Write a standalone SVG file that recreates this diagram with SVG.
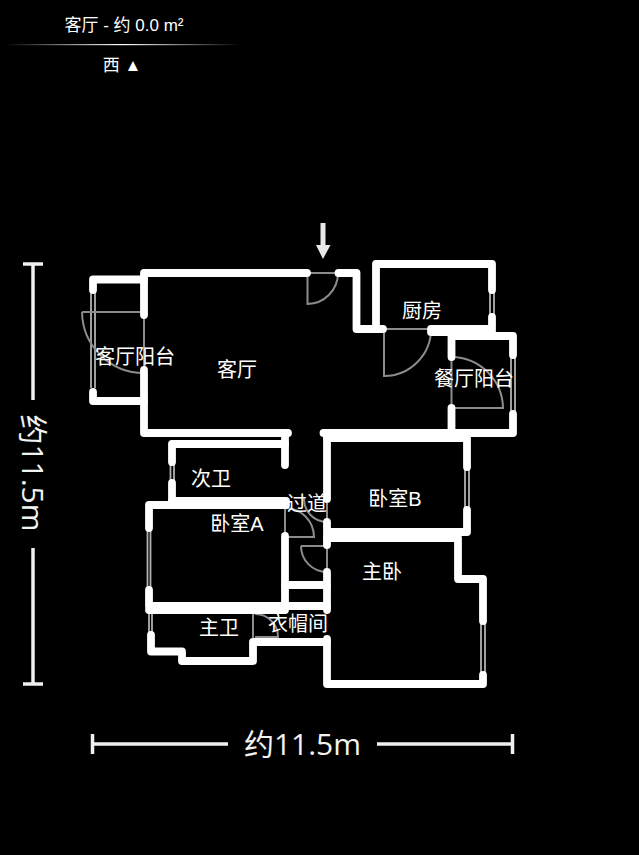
<svg xmlns="http://www.w3.org/2000/svg" width="639" height="855" viewBox="0 0 639 855">
<defs>
<linearGradient id="fade" x1="0" x2="1" y1="0" y2="0"><stop offset="0" stop-color="#fff" stop-opacity="0"/><stop offset=".5" stop-color="#fff"/><stop offset="1" stop-color="#fff" stop-opacity="0"/></linearGradient>
</defs>
<style>
text{font-family:"Liberation Sans","Noto Sans CJK SC",sans-serif;fill:#fff;text-anchor:middle}
.room{font-size:20px;dominant-baseline:central}
.head{font-size:17px;dominant-baseline:central}
.dimt{font-size:30px;dominant-baseline:central;fill:#f2f2f2;font-family:"Open Sans","Noto Sans CJK SC",sans-serif}
.wall{fill:none;stroke:#fff;stroke-width:7.8;stroke-linecap:round;stroke-linejoin:round}
.thin{fill:none;stroke:#8c8c8c;stroke-width:2}
.win{fill:none;stroke:#b0b0b0;stroke-width:1.8}
.dim{fill:none;stroke:#f0f0f0;stroke-width:3.5}
</style>
<rect width="639" height="855" fill="#000"/>
<g id="header">
<text class="head" x="124" y="25">客厅 - 约 0.0 m²</text>
<rect x="5" y="44" width="235" height="1.2" fill="url(#fade)"/>
<text class="head" x="122" y="65">西 ▲</text>
</g>
<g id="windows">
<path class="win" d="M91 290V388M95 290V388M490 290V314M494 290V314M511 355V412M515 355V412M170.500 462V483M174 462V483M465 467V507M469 467V507M147.500 528V590M150.500 528V590M149 612V635M152 612V635M481 621V675M485 621V675"/>
</g>
<g id="doors">
<path class="thin" d="M82 312H144V370M82 312A62 62 0 0 0 144 373"/>
<path class="thin" d="M307.500 273H338M307.500 273V304A31 31 0 0 0 338 273"/>
<path class="thin" d="M383 329H431M384 329V376A47 47 0 0 0 431 329"/>
<path class="thin" d="M451.500 357V408H503A52 52 0 0 0 451.500 357"/>
<path class="thin" d="M285 503V537H314A29 29 0 0 0 285 508"/>
<path class="thin" d="M327 499V522M304 499A23 23 0 0 0 327 522"/>
<path class="thin" d="M327 545V572M301 546H327M301 546A26 26 0 0 0 327 572"/>
<path class="thin" d="M253 612V638M255 637H278A23 23 0 0 0 255 614"/>
</g>
<g id="walls">
<path class="wall" d="M93 290V279.500H144"/>
<path class="wall" d="M93 392V401H144"/>
<path class="wall" d="M144 315V273H307"/>
<path class="wall" d="M144 370V433H288"/>
<path class="wall" d="M338.500 273H356.500V329H383"/>
<path class="wall" d="M376 329V264H492V290"/>
<path class="wall" d="M492 317V329H431"/>
<path class="wall" d="M451.500 357V336H513V355"/>
<path class="wall" d="M451.500 408V433"/>
<path class="wall" d="M431 332H492"/>
<path class="wall" d="M513 414V433H323.500"/>
<path class="wall" d="M327 433V499"/>
<path class="wall" d="M327 438H467V467"/>
<path class="wall" d="M467 510V532H327V522"/>
<path class="wall" d="M327 538H458V579H483V621"/>
<path class="wall" d="M327 535V545"/>
<path class="wall" d="M483 675V684H327V639"/>
<path class="wall" d="M327 572V610"/>
<path class="wall" d="M172 462V444H285"/>
<path class="wall" d="M285 433V465"/>
<path class="wall" d="M172 483V501"/>
<path class="wall" d="M149 528V505H286"/>
<path class="wall" d="M172 501H286"/>
<path class="wall" d="M285 536V608"/>
<path class="wall" d="M285 585H327"/>
<path class="wall" d="M149 590V606H327"/>
<path class="wall" d="M149 610H285"/>
<path class="wall" d="M151 635V651.500H182V661H253V642H327"/>
</g>
<g id="entry-arrow">
<path d="M320.500 223H325.500V245L330.500 245L323 259L316 245L320.500 245Z" fill="#e8e8e8"/>
</g>
<g id="room-labels">
<text class="room" x="237" y="370">客厅</text>
<text class="room" x="135" y="357">客厅阳台</text>
<text class="room" x="422" y="311">厨房</text>
<text class="room" x="474" y="379">餐厅阳台</text>
<text class="room" x="211" y="479">次卫</text>
<text class="room" x="237" y="524">卧室A</text>
<text class="room" x="307" y="504">过道</text>
<text class="room" x="219" y="628">主卫</text>
<text class="room" x="298" y="624">衣帽间</text>
<text class="room" x="395" y="499">卧室B</text>
<text class="room" x="382" y="572">主卧</text>
</g>
<g id="dimensions">
<path class="dim" d="M92.500 734V754M92.500 744H228M377 744H512.500M512.500 734V754"/>
<text class="dimt" x="302.500" y="743">约11.5m</text>
<path class="dim" d="M23 264H43M33 264V400M33 548V684M23 684H43"/>
<text class="dimt" transform="translate(33 473) rotate(90)">约11.5m</text>
</g>
</svg>
